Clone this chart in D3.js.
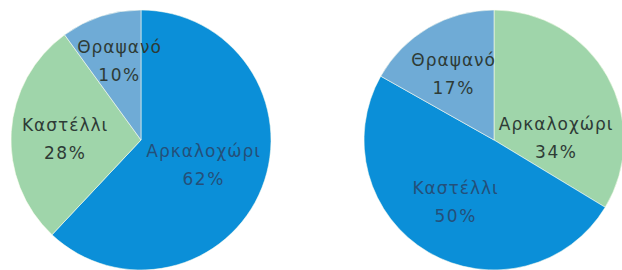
<!DOCTYPE html>
<html>
<head>
<meta charset="utf-8">
<script src="https://cdn.jsdelivr.net/npm/d3@7"></script>
<style>
  html, body { margin: 0; padding: 0; background: #ffffff; }
  svg { display: block; }
</style>
</head>
<body>
<svg id="chart" width="622" height="270"></svg>
<script>
// ---- data ----
const leftNames  = ["Αρκαλοχώρι", "Καστέλλι", "Θραψανό"];
const leftValues = [62, 28, 10];
const leftColors = ["#0b8fd8", "#9fd5aa", "#6fabd6"];

const rightNames  = ["Αρκαλοχώρι", "Καστέλλι", "Θραψανό"];
const rightValues = [34, 50, 17];
const rightColors = ["#9fd5aa", "#0b8fd8", "#6fabd6"];

// ---- drawing ----
const svg = d3.select("#chart");
const R = 130;
const fontFamily = "'DejaVu Sans', 'Noto Sans', sans-serif";

function drawPie(cx, cy, names, values, colors, nudges) {
  const g = svg.append("g").attr("transform", `translate(${cx},${cy})`);
  const pie = d3.pie().sort(null).value(d => d.v);
  const data = names.map((n, i) => ({ n, v: values[i], c: colors[i] }));
  const arcs = pie(data);
  const arc = d3.arc().innerRadius(0).outerRadius(R);
  const labelArc = d3.arc().innerRadius(76).outerRadius(76);

  g.selectAll("path").data(arcs).enter().append("path")
    .attr("d", arc)
    .attr("fill", d => d.data.c)
    .attr("stroke", "rgba(255,255,240,0.55)")
    .attr("stroke-width", 1);

  const lab = g.selectAll("g.lab").data(arcs).enter().append("g")
    .attr("class", "lab")
    .attr("transform", d => {
      const [x, y] = labelArc.centroid(d);
      const nd = nudges[d.data.n] || [0, 0];
      return `translate(${x + nd[0]},${y + nd[1]})`;
    });
  const txtColor = d => d.data.c === "#0b8fd8" ? "#24507a" : "#2e3b36";
  lab.append("text")
    .attr("text-anchor", "middle")
    .attr("font-family", fontFamily)
    .attr("font-size", 17)
    .attr("letter-spacing", 1)
    .attr("fill", txtColor)
    .text(d => d.data.n);
  lab.append("text")
    .attr("text-anchor", "middle")
    .attr("y", 28)
    .attr("font-family", fontFamily)
    .attr("font-size", 17)
    .attr("letter-spacing", 1.5)
    .attr("fill", txtColor)
    .text(d => d.data.v + "%");
}

drawPie(141, 140, leftNames, leftValues, leftColors, {
  "Αρκαλοχώρι": [-8, -11], "Καστέλλι": [0, -4], "Θραψανό": [2, -15]
});
drawPie(494, 140, rightNames, rightValues, rightColors, {
  "Αρκαλοχώρι": [-4, 27], "Καστέλλι": [0, -12], "Θραψανό": [-2, -8]
});
</script>
</body>
</html>
